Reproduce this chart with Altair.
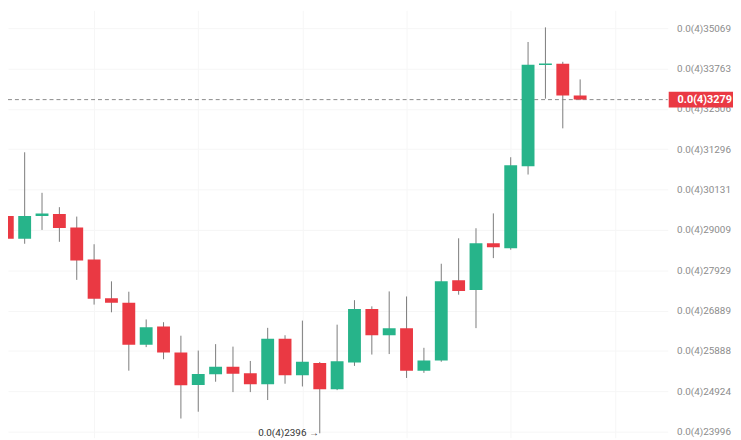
import altair as alt
import pandas as pd

# Prices in units of 1e-9 (shown as 0.0(4)xxxxx)
open_ = [29389, 28767, 29389, 29444, 29077, 28211, 27206, 27092, 26043, 26489, 25850, 25075, 25326, 25508, 25349, 25091, 26188,
         25302, 25594, 24975, 25610, 26929, 26274, 26450, 25409, 25658, 27665, 27417, 28647, 28514, 30797, 33873, 33914, 32920]
high = [29672, 31206, 30039, 29636, 29375, 28621, 27640, 27371, 26667, 26598, 26262, 25898, 26055, 25994, 25646, 26457, 26274,
        26638, 25622, 26536, 27155, 26997, 27379, 27249, 25965, 28101, 28781, 29055, 29463, 31061, 34616, 35095, 33977, 33419]
low = [28714, 28634, 29009, 28687, 27678, 27042, 26847, 25413, 25982, 25689, 24295, 24451, 25150, 24906, 24906, 24721, 25103,
       25038, 23960, 24952, 25527, 25801, 25813, 25239, 25361, 25627, 27295, 26450, 28250, 28474, 30560, 32819, 31916, 32775]
close = [28767, 29389, 29458, 29063, 28185, 27193, 27092, 26043, 26470, 25850, 25068, 25333, 25508, 25338, 25091, 26188, 25302,
         25627, 24975, 25641, 26929, 26274, 26450, 25413, 25658, 27640, 27391, 28647, 28541, 30831, 33882, 33923, 32920, 32790]

tick_values = [23996, 24924, 25888, 26889, 27929, 29009, 30131, 31296, 32506, 33763, 35069]
time_grid = [5, 11, 17, 23, 29, 35]
current_price = 32790
current_label = "0.0(4)3279"
low_mark_index = 18
low_mark_price = 23960
low_mark_label = "0.0(4)2396 →"

UP = "#27b48a"
DOWN = "#ea3943"

df = pd.DataFrame({
    "i": list(range(len(open_))),
    "open": open_, "high": high, "low": low, "close": close,
})
df["dir"] = ["up" if c >= o else "down" for o, c in zip(open_, close)]

W, H = 667, 432
xscale = alt.Scale(domain=[0.325, 37.76], nice=False, zero=False)
yscale = alt.Scale(type="log", domain=[23862, 35661], nice=False, zero=False)

x_enc = alt.X("i:Q", scale=xscale,
              axis=alt.Axis(values=time_grid, labels=False, ticks=False, domain=False, title=None,
                            grid=True, gridColor="#f6f6f6", gridWidth=1))
y_axis = alt.Axis(orient="right", values=tick_values, title=None, domain=False, ticks=False,
                  labelExpr="'0.0(4)' + format(datum.value, 'd')", labelPadding=9,
                  labelFont="Roboto", labelFontSize=10, labelColor="#8c8c8c",
                  grid=True, gridColor="#f6f6f6", gridWidth=1, zindex=0)

base = alt.Chart(df)

wicks = base.mark_rule(color="#7b7b7b", strokeWidth=1, clip=True).encode(
    x=x_enc,
    y=alt.Y("low:Q", scale=yscale, axis=y_axis),
    y2="high:Q",
)

bodies = base.mark_bar(size=13, clip=True).encode(
    x=alt.X("i:Q", scale=xscale),
    y=alt.Y("open:Q", scale=yscale),
    y2="close:Q",
    color=alt.Color("dir:N", scale=alt.Scale(domain=["up", "down"], range=[UP, DOWN]), legend=None),
)

price_df = pd.DataFrame({"p": [current_price], "label": [current_label]})
price_line = alt.Chart(price_df).mark_rule(color="#8a8a8a", strokeDash=[4, 3], strokeWidth=1).encode(
    y=alt.Y("p:Q", scale=yscale),
    x=alt.value(0), x2=alt.value(W),
)
price_box = alt.Chart(price_df).mark_rule(color=DOWN, strokeWidth=16, strokeCap="butt", clip=False).encode(
    y=alt.Y("p:Q", scale=yscale),
    x=alt.value(W + 1), x2=alt.value(W + 80),
)
price_text = alt.Chart(price_df).mark_text(align="left", baseline="middle", color="white",
                                           font="Roboto", fontSize=11, fontWeight="bold", clip=False).encode(
    y=alt.Y("p:Q", scale=yscale),
    x=alt.value(W + 10),
    text="label:N",
)

low_df = pd.DataFrame({"i": [low_mark_index], "p": [low_mark_price], "label": [low_mark_label]})
low_text = alt.Chart(low_df).mark_text(align="right", baseline="middle", dx=-1, color="#333333",
                                       font="Roboto", fontSize=10, clip=False).encode(
    x=alt.X("i:Q", scale=xscale),
    y=alt.Y("p:Q", scale=yscale),
    text="label:N",
)

chart = alt.layer(wicks, price_line, bodies, low_text, price_box, price_text).properties(
    width=W, height=H,
    autosize=alt.AutoSizeParams(type="none"),
    padding={"left": 0, "top": 0, "right": 66, "bottom": 0},
).configure(background="white").configure_view(stroke=None)

chart.save("out.html", embed_options={"renderer": "svg", "actions": False})
